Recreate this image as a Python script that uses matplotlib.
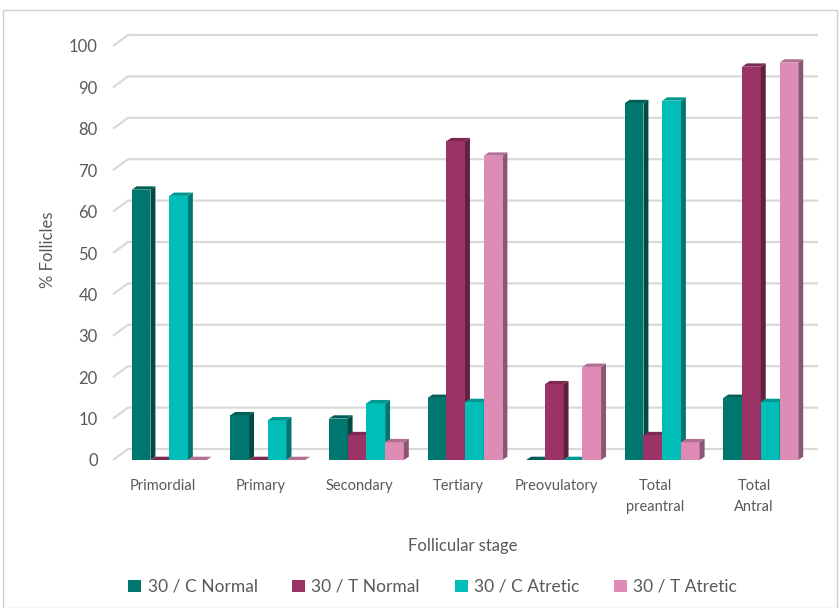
import matplotlib.pyplot as plt
from matplotlib.patches import Polygon, Rectangle, Patch
import matplotlib.colors as mcolors
import numpy as np

plt.rcParams['font.family'] = ['Lato', 'DejaVu Sans']

stages = ["Primordial", "Primary", "Secondary", "Tertiary", "Preovulatory",
          "Total\npreantral", "Total\nAntral"]
series = ["30 / C Normal", "30 / T Normal", "30 / C Atretic", "30 / T Atretic"]
c_normal = [65.3, 10.8, 10.0, 15.0, 0.0, 86.2, 15.0]
t_normal = [0.0, 0.0, 6.0, 77.0, 18.3, 6.0, 95.0]
c_atretic = [63.8, 9.6, 13.7, 14.0, 0.0, 86.8, 14.0]
t_atretic = [0.0, 0.0, 4.3, 73.5, 22.5, 4.3, 96.0]
colors = ["#00776E", "#9C3366", "#00BDB7", "#DE8BB6"]
yticks = list(range(0, 101, 10))

values = [c_normal, t_normal, c_atretic, t_atretic]
text_col = "#595959"
grid_col = "#D9D9D9"


def shade(c, f):
    r, g, b = mcolors.to_rgb(c)
    return (r * f, g * f, b * f)


fig = plt.figure(figsize=(8.4, 6.08), dpi=100)
fig.patches.append(Rectangle((3 / 840, 0), 834 / 840, 598 / 608, transform=fig.transFigure,
                             fill=False, edgecolor="#D0D0D0", lw=1.0))

ax = fig.add_axes([113 / 840, 148 / 608, 705 / 840, 103 * 4.14 / 608])
ax.set_xlim(-0.5, 6.65)
ax.set_ylim(0, 103)
for s in ax.spines.values():
    s.set_visible(False)

# back wall gridlines with a short perspective leg at the left
gdx, gdy = 0.152, 2.66
for v in yticks:
    ax.plot([-0.5, -0.5 + gdx, 6.65], [v, v + gdy, v + gdy], color=grid_col, lw=1.6,
            zorder=1, clip_on=False, solid_capstyle="butt")

# pseudo-3D columns: front face, right side, top
w = 0.19
sdx, sdy = 0.05, 0.8
z = 2
for i in range(len(stages)):
    for k, vals in enumerate(values):
        v = vals[i]
        x0 = i - 0.31 + k * w
        col = colors[k]
        ax.add_patch(Rectangle((x0, 0), w, v, facecolor=col, edgecolor="none",
                               zorder=z, clip_on=False))
        ax.add_patch(Polygon([(x0 + w, 0), (x0 + w + sdx, sdy), (x0 + w + sdx, v + sdy),
                              (x0 + w, v)], closed=True, facecolor=shade(col, 0.62),
                             edgecolor="none", zorder=z, clip_on=False))
        ax.add_patch(Polygon([(x0, v), (x0 + w, v), (x0 + w + sdx, v + sdy), (x0 + sdx, v + sdy)],
                             closed=True, facecolor=shade(col, 0.8), edgecolor="none",
                             zorder=z, clip_on=False))
        z += 1

ax.set_yticks(yticks)
ax.set_yticklabels([str(t) for t in yticks])
ax.set_xticks(range(len(stages)))
ax.set_xticklabels(stages)
ax.tick_params(axis="y", length=0, pad=11, labelsize=12, labelcolor=text_col)
ax.tick_params(axis="x", length=0, pad=14, labelsize=10.5, labelcolor=text_col)
for lab in ax.get_xticklabels():
    lab.set_linespacing(1.6)

fig.text(48 / 840, 1 - 250 / 608, "% Follicles", rotation=90, ha="center", va="center",
         fontsize=12, color=text_col)
fig.text(463 / 840, 1 - 546 / 608, "Follicular stage", ha="center", va="center",
         fontsize=12, color=text_col)

handles = [Patch(facecolor=c, edgecolor="none") for c in colors]
fig.legend(handles, series, loc="center", bbox_to_anchor=(0.515, 1 - 587 / 608), ncol=4,
           frameon=False, fontsize=12.5, labelcolor=text_col, handlelength=0.75,
           handleheight=0.75, handletextpad=0.35, columnspacing=2.0)

fig.savefig("out.png", dpi=100)
